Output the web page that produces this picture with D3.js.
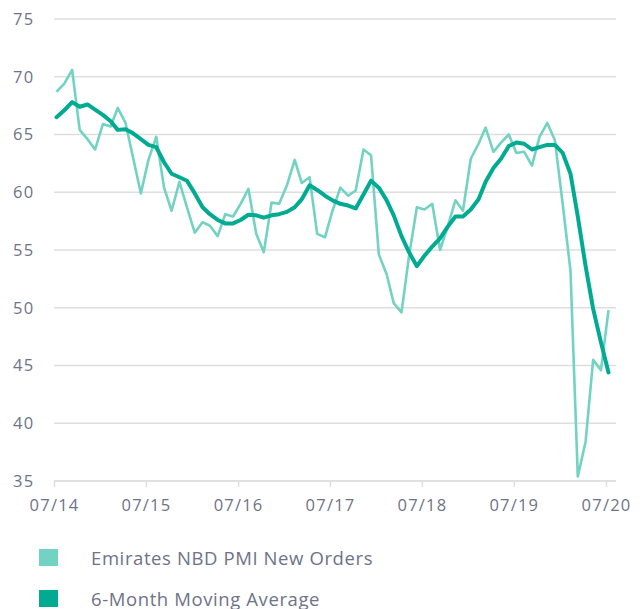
<!DOCTYPE html>
<meta charset="utf-8">
<style>
body { margin: 0; background: #fff; }
.tick-label { font: 16.5px "Open Sans", sans-serif; fill: #6e7388; letter-spacing: 1.2px; }
.legend-label { font: 18.5px "Open Sans", sans-serif; fill: #6e7388; letter-spacing: 0.6px; }
</style>
<svg width="640" height="609"></svg>
<script src="https://d3js.org/d3.v7.min.js"></script>
<script>

// monthly readings, Jul 2014 .. Jul 2020
var startMonth = new Date(2014, 6, 11);

var newOrders = [
  68.7, 69.4, 70.6, 65.4, 64.6, 63.7, 65.9, 65.7, 67.3, 66.0, 63.0, 59.9,
  62.8, 64.8, 60.4, 58.4, 60.9, 58.7, 56.5, 57.4, 57.1, 56.2, 58.1, 57.9,
  59.0, 60.3, 56.4, 54.8, 59.1, 59.0, 60.6, 62.8, 60.8, 61.3, 56.4, 56.1,
  58.4, 60.4, 59.7, 60.15, 63.7, 63.2, 54.6, 52.9, 50.4, 49.6, 54.5, 58.7,
  58.5, 59.0, 55.0, 57.0, 59.3, 58.4, 62.9, 64.2, 65.6, 63.5, 64.3, 65.0,
  63.4, 63.5, 62.3, 64.8, 66.0, 64.5, 59.0, 53.2, 35.4, 38.4, 45.5, 44.6,
  49.8
];

var movingAvg = [
  66.5, 67.1, 67.8, 67.4, 67.6, 67.15, 66.7, 66.15, 65.4, 65.45, 65.1, 64.6,
  64.1, 63.9, 62.6, 61.6, 61.3, 61.0, 59.9, 58.7, 58.1, 57.6, 57.3, 57.3,
  57.6, 58.05, 58.0, 57.8, 58.0, 58.1, 58.3, 58.7, 59.4, 60.6, 60.2, 59.7,
  59.3, 59.0, 58.85, 58.6, 59.8, 61.0, 60.4, 59.3, 58.0, 56.2, 54.8, 53.6,
  54.5, 55.3, 56.0, 57.0, 57.9, 57.9, 58.5, 59.4, 60.9, 62.1, 62.9, 64.0,
  64.3, 64.2, 63.7, 63.9, 64.1, 64.1, 63.4, 61.6, 57.9, 53.6, 49.9, 47.0,
  44.4
];

var yTicks = [35, 40, 45, 50, 55, 60, 65, 70, 75];
var xTickYears = [2014, 2015, 2016, 2017, 2018, 2019, 2020];

var seriesNames = ["Emirates NBD PMI New Orders", "6-Month Moving Average"];
var seriesColors = ["#72d3c3", "#00ab91"];

var svg = d3.select("svg");

var x = d3.scaleTime()
    .domain([new Date(2014, 6, 1), new Date(2020, 6, 1)])
    .range([54, 606]);

var y = d3.scaleLinear()
    .domain([35, 75])
    .range([481, 19]);

var months = newOrders.map(function(d, i) { return d3.timeMonth.offset(startMonth, i); });

// gridlines
svg.append("g")
  .selectAll("line")
  .data(yTicks)
  .enter().append("line")
    .attr("x1", 54)
    .attr("x2", 616)
    .attr("y1", function(d) { return y(d); })
    .attr("y2", function(d) { return y(d); })
    .attr("stroke", "#dedede")
    .attr("stroke-width", 1.5);

// y labels
svg.append("g")
  .selectAll("text")
  .data(yTicks)
  .enter().append("text")
    .attr("class", "tick-label")
    .attr("x", 13)
    .attr("y", function(d) { return y(d); })
    .attr("dy", "0.36em")
    .text(function(d) { return d; });

// x axis
var xAxis = d3.axisBottom(x)
    .tickValues(xTickYears.map(function(yr) { return new Date(yr, 6, 1); }))
    .tickFormat(d3.timeFormat("%m/%y"))
    .tickSize(6)
    .tickPadding(12);

var xg = svg.append("g")
    .attr("transform", "translate(0," + y(35) + ")")
    .call(xAxis);
xg.select(".domain").attr("stroke", "#dedede").attr("stroke-width", 1.5)
    .attr("d", "M54,0H616");
xg.selectAll(".tick line").attr("stroke", "#dedede").attr("stroke-width", 1.5);
xg.selectAll(".tick text").attr("class", "tick-label").attr("font-size", null).attr("font-family", null);

var line = d3.line()
    .x(function(d, i) { return x(months[i]); })
    .y(function(d) { return y(d); });

svg.append("path")
    .datum(newOrders)
    .attr("fill", "none")
    .attr("stroke", seriesColors[0])
    .attr("stroke-width", 2.6)
    .attr("stroke-linejoin", "round")
    .attr("d", line);

svg.append("path")
    .datum(movingAvg)
    .attr("fill", "none")
    .attr("stroke", seriesColors[1])
    .attr("stroke-width", 4)
    .attr("stroke-linejoin", "round")
    .attr("stroke-linecap", "round")
    .attr("d", line);

// legend
var legend = svg.append("g")
  .selectAll("g")
  .data(seriesNames)
  .enter().append("g")
    .attr("transform", function(d, i) { return "translate(39," + (549 + i * 41) + ")"; });

legend.append("rect")
    .attr("width", 19)
    .attr("height", 17)
    .attr("fill", function(d, i) { return seriesColors[i]; });

legend.append("text")
    .attr("class", "legend-label")
    .attr("x", 52)
    .attr("y", 16)
    .text(function(d) { return d; });

</script>
